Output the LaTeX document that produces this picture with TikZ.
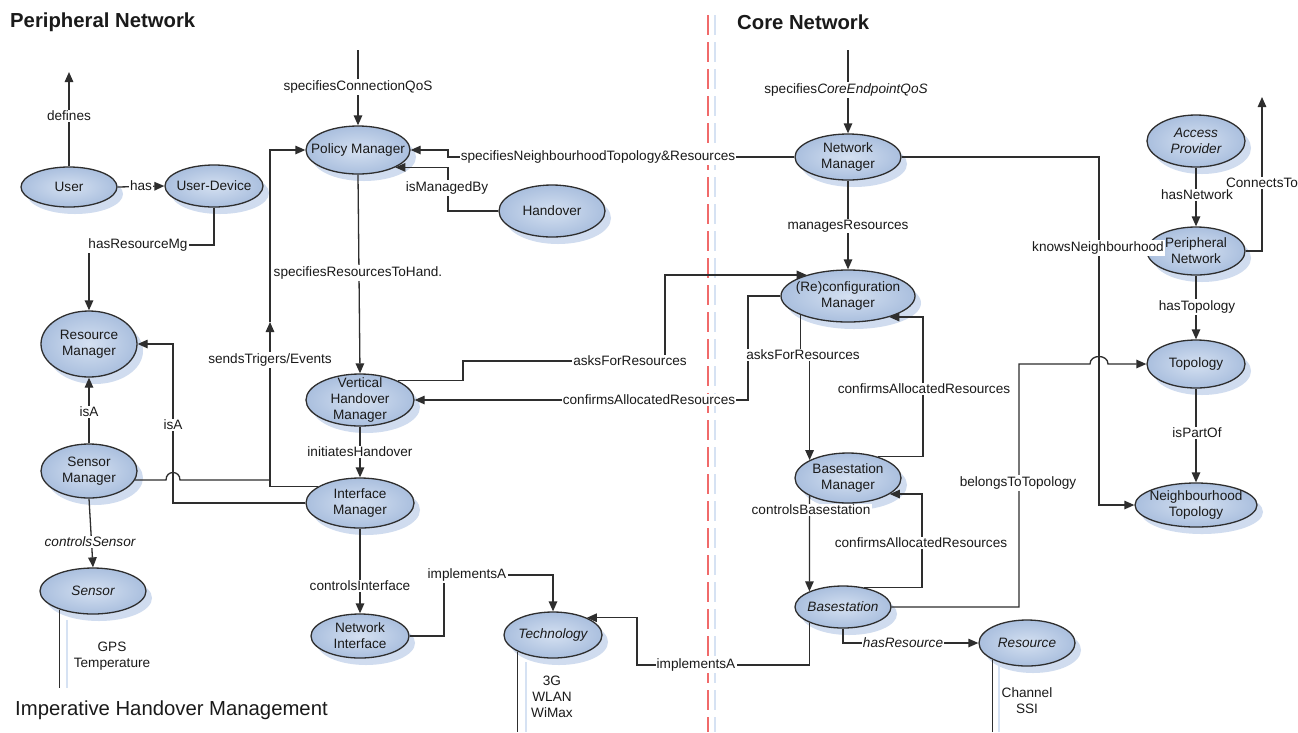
\documentclass[tikz,border=0pt]{standalone}
\usepackage{fontspec}
\setmainfont{Liberation Sans}
\usetikzlibrary{arrows.meta,shapes.geometric,shadows}
\definecolor{ln}{HTML}{2E2E2E}
\definecolor{txt}{HTML}{1A1A1A}
\definecolor{ellin}{HTML}{D4E0F1}
\definecolor{ellout}{HTML}{AABFDE}
\definecolor{shblue}{HTML}{D0DCEF}
\definecolor{sepred}{HTML}{F06A6A}
\definecolor{sepblue}{HTML}{D6E2F3}
\newcommand\lblfont{\fontsize{13.6}{16}\selectfont}
\newcommand\ttlfont{\fontsize{20.3}{24}\selectfont}
\tikzset{
  ent/.style 2 args={ellipse, draw=ln, line width=1.3pt, inner color=ellin, outer color=ellout,
    general shadow={fill=shblue, shadow xshift=6pt, shadow yshift=-7pt},
    minimum width=#1pt, minimum height=#2pt, inner xsep=-14pt, inner ysep=-12pt,
    align=center, font=\lblfont, text=txt},
  con/.style={draw=ln, line width=1.3pt},
  arr/.style={con, -{Triangle[length=10pt,width=8.5pt]}},
  lab/.style={fill=white, inner sep=1.2pt, font=\lblfont, text=txt, align=center},
  note/.style={inner sep=0pt, font=\lblfont, text=txt, align=center},
  brk/.style={draw=ln, line width=1.3pt},
  brkshadow/.style={draw=sepblue, line width=1.5pt},
}
\begin{document}
\begin{tikzpicture}[x=1pt,y=-1pt]
\useasboundingbox[fill=white] (0,0) rectangle (1298,732);

% separators
\draw[sepblue, line width=2pt, dash pattern=on 20pt off 7pt] (715,15) -- (715,732);
\draw[sepred, line width=2pt, dash pattern=on 20pt off 7pt] (708,15) -- (708,732);

% titles
\node[anchor=west, inner sep=0pt, font=\ttlfont\bfseries, text=txt] (tper) at (10,22) {Peripheral Network};
\node[anchor=west, inner sep=0pt, font=\ttlfont\bfseries, text=txt] (tcore) at (737,22) {Core Network};
\node[anchor=west, inner sep=0pt, font=\ttlfont, text=txt] (timp) at (15,710) {Imperative Handover Management};

% entities
\node[ent={96}{40}] (user) at (69,187) {User};
\node[ent={98}{42}] (udev) at (214,186) {User-Device};
\node[ent={104}{48}] (pm) at (358,150) {Policy Manager};
\node[ent={106}{52}] (hand) at (552,211) {Handover};
\node[ent={96}{66}] (rm) at (89,344) {Resource\\Manager};
\node[ent={96}{54}] (sm) at (89,471) {Sensor\\Manager};
\node[ent={106}{46}] (sensor) at (93,591) {\itshape Sensor};
\node[ent={108}{52}] (vhm) at (360,400) {Vertical\\Handover\\Manager};
\node[ent={108}{50}] (im) at (360,503) {Interface\\Manager};
\node[ent={98}{44}] (ni) at (360,636) {Network\\Interface};
\node[ent={98}{46}] (tech) at (553,635) {\itshape Technology};
\node[ent={106}{46}] (nm) at (848,157) {Network\\Manager};
\node[ent={134}{52}] (rcm) at (848,296) {(Re)configuration\\Manager};
\node[ent={106}{50}] (bm) at (848,478) {Basestation\\Manager};
\node[ent={96}{42}] (bs) at (843,607) {\itshape Basestation};
\node[ent={96}{46}] (res) at (1027,643) {\itshape Resource};
\node[ent={98}{52}] (ap) at (1196,141) {\itshape Access\\\itshape Provider};
\node[ent={98}{48}] (pn) at (1196,251) {Peripheral\\Network};
\node[ent={98}{48}] (topo) at (1196,364) {Topology};
\node[ent={122}{44}] (nt) at (1196,505) {Neighbourhood\\Topology};

% free ends
\coordinate (defTop) at (69,72);
\coordinate (qosTop) at (358,50);
\coordinate (ceqTop) at (848,50);
\coordinate (conTop) at (1262,97);
\coordinate (jt) at (270,322);

% ---- peripheral side connectors
\draw[arr] (user.north) -- (defTop);
\node[lab] (ldef) at (69,116) {defines};

\draw[arr] (user.east) -- (udev.west);
\node[lab] (lhas) at (141,186) {has};

\draw[arr] (udev.south) |- (89,245) -- (rm.north);
\node[lab] (lhrm) at (138,245) {hasResourceMg};

\draw[arr] (qosTop) -- (pm.north);
\node[lab] (lqos) at (358,87) {specifiesConnectionQoS};

\draw[arr] (nm.west) -| (448,150) -- (pm.east);
\node[lab] (lsnt) at (598,157) {specifiesNeighbourhoodTopology\&Resources};

\draw[arr] (hand.west) -| (pm.-25 -| 448,0) -- (pm.-25);
\node[lab] (limb) at (447,188) {isManagedBy};

\draw[arr] (pm.south) -- (vhm.north);
\node[lab] (lsrh) at (358,273) {specifiesResourcesToHand.};

\draw[arr] (im.159) -| (jt);
\draw[arr] (jt) |- (pm.west);
\draw[con] (sm.-11) -- (166,480) .. controls (166,470) and (180,470) .. (180,480) -- (270,480);
\node[lab] (lste) at (270,360) {sendsTrigers/Events};

\draw[arr] (sm.north) -- (rm.south);
\node[lab] (lisa1) at (89,412) {isA};

\draw[arr] (im.west) -| (173,344) -- (rm.east);
\node[lab] (lisa2) at (173,425) {isA};

\draw[arr] (vhm.south) -- (im.north);
\node[lab] (linh) at (360,452) {initiatesHandover};

\draw[arr] (sm.south) -- (sensor.north);
\node[lab] (lcs) at (90,542) {\itshape controlsSensor};

\draw[arr] (im.south) -- (ni.north);
\node[lab] (lci) at (360,586) {controlsInterface};

\draw[arr] (ni.east) -| (444,575) -| (tech.north);
\node[lab] (lia1) at (467,575) {implementsA};

% ---- annotations
\draw[brkshadow] (67,620) -- (67,688);
\draw[brk] (sensor.-151) -- (sensor.-151 |- 0,688);
\node[note] (ngps) at (112,656) {GPS\\Temperature};

\draw[brkshadow] (526,662) -- (526,732);
\draw[brk] (tech.-155) -- (tech.-155 |- 0,732);
\node[note] (ntech) at (552,697) {3G\\WLAN\\WiMax};

\draw[brkshadow] (999,666) -- (999,732);
\draw[brk] (res.-154) -- (res.-154 |- 0,732);
\node[note] (nres) at (1027,701) {Channel\\SSI};

% ---- core side connectors
\draw[arr] (ceqTop) -- (nm.north);
\node[lab] (lceq) at (846,90) {specifies\textit{CoreEndpointQoS}};

\draw[arr] (nm.south) -- (rcm.north);
\node[lab] (lmr) at (848,226) {managesResources};

\draw[arr] (vhm.27) -| (463,361) -- (665,361) |- (rcm.153);
\node[lab] (lafr1) at (630,361) {asksForResources};

\draw[arr] (rcm.west) -| (748,400) -- (vhm.east);
\node[lab] (lcar1) at (649,400) {confirmsAllocatedResources};

\draw[arr] (rcm.-158) -- (rcm.-158 |- 0,355) -- (bm.155 |- 0,355) -- (bm.155);
\node[lab] (lafr2) at (803,355) {asksForResources};

\draw[arr] (bm.36) -| (rcm.-27 -| 923,0) -- (rcm.-27);
\node[lab] (lcar2) at (924,389) {confirmsAllocatedResources};

\draw[arr] (bm.-155) -- (bs.155);
\node[lab] (lcb) at (811,510) {controlsBasestation};

\draw[arr] (bs.43) -| (bm.-21 -| 922,0) -- (bm.-21);
\node[lab] (lcar3) at (921,543) {confirmsAllocatedResources};

\draw[arr] (bs.-155) |- (637,665) |- (tech.27);
\node[lab] (lia2) at (696,665) {implementsA};

\draw[arr] (bs.south) |- (res.west);
\node[lab] (lhr) at (903,643) {\itshape hasResource};

\draw[arr] (nm.east) -| (nt.west -| 1099,0) -- (nt.west);
\node[lab] (lkn) at (1098,248) {knowsNeighbourhood};

\draw[arr] (bs.east) -| (1019,364) -- (1090,364) .. controls (1090,354) and (1108,354) .. (1108,364) -- (topo.west);
\node[lab] (lbt) at (1018,483) {belongsToTopology};

\draw[arr] (ap.south) -- (pn.north);
\node[lab] (lhn) at (1197,195) {hasNetwork};

\draw[arr] (pn.east) -| (conTop);
\node[lab] (lct) at (1262,183) {ConnectsTo};

\draw[arr] (pn.south) -- (topo.north);
\node[lab] (lht) at (1197,307) {hasTopology};

\draw[arr] (topo.south) -- (nt.north);
\node[lab] (lipo) at (1197,433) {isPartOf};
\end{tikzpicture}
\end{document}
